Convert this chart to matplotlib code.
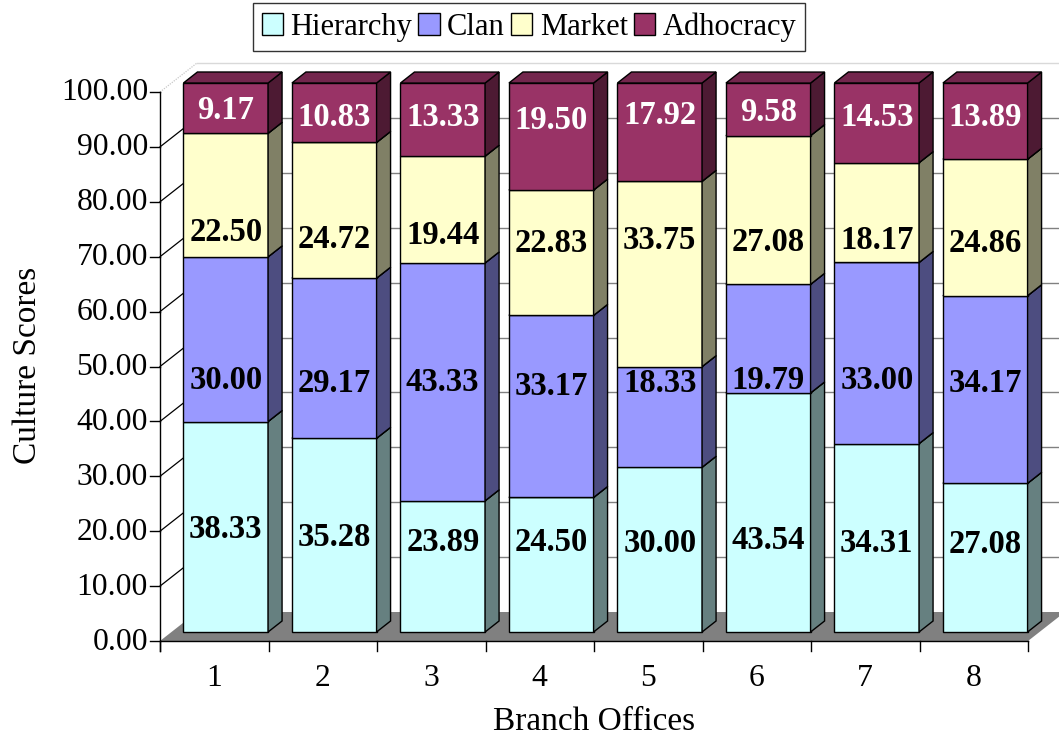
import matplotlib
matplotlib.use("Agg")
import matplotlib.pyplot as plt
from matplotlib.patches import Polygon, Patch
from matplotlib.colors import to_rgb

# ---------------- data ----------------
offices = ["1", "2", "3", "4", "5", "6", "7", "8"]
series_names = ["Hierarchy", "Clan", "Market", "Adhocracy"]
hierarchy = [38.33, 35.28, 23.89, 24.50, 30.00, 43.54, 34.31, 27.08]
clan = [30.00, 29.17, 43.33, 33.17, 18.33, 19.79, 33.00, 34.17]
market = [22.50, 24.72, 19.44, 22.83, 33.75, 27.08, 18.17, 24.86]
adhocracy = [9.17, 10.83, 13.33, 19.50, 17.92, 9.58, 14.53, 13.89]
y_ticks = [0, 10, 20, 30, 40, 50, 60, 70, 80, 90, 100]

# label heights (where the chart placed the value labels)
label_h_hier = [19.2, 17.7, 16.8, 16.8, 16.6, 17.3, 16.6, 16.4]
label_h_clan = [46.4, 45.8, 46.0, 45.3, 45.8, 46.4, 46.4, 45.8]
label_h_market = [73.4, 72.1, 72.8, 71.4, 71.9, 71.5, 71.9, 71.4]
label_h_adhoc = [95.6, 94.3, 94.3, 93.8, 94.7, 95.1, 94.2, 94.3]

series = [hierarchy, clan, market, adhocracy]
label_h = [label_h_hier, label_h_clan, label_h_market, label_h_adhoc]
colors = ["#CCFFFF", "#9999FF", "#FFFFCC", "#993366"]
label_colors = ["black", "black", "black", "white"]

FONT = "Liberation Serif"
plt.rcParams["font.family"] = [FONT, "DejaVu Serif"]

W, H = 1059, 738
fig = plt.figure(figsize=(W / 100, H / 100), dpi=100)
# front plane of the plot box in pixels
px_left, px_right, px_bottom, px_top = 160, 1028, 641, 92
ax = fig.add_axes([px_left / W, (H - px_bottom) / H,
                   (px_right - px_left) / W, (px_bottom - px_top) / H])
n = len(offices)
ax.set_xlim(0, n)
ax.set_ylim(0, 100)
ax.axis("off")

ppx = (px_right - px_left) / n      # pixels per category
ppy = (px_bottom - px_top) / 100.0  # pixels per unit

def ux(p):
    return p / ppx

def uy(p):
    return p / ppy

# depth offsets
Dx, Dy = ux(37), uy(29)      # full depth of the floor / walls
Fx, Fy = ux(11.5), uy(9)     # bar front plane
Bx, By = ux(14), uy(11)      # bar depth
bar_w = 0.78
txt_shift = uy(3)            # visual centring correction for digits

def darken(c, f):
    r, g, b = to_rgb(c)
    return (r * f, g * f, b * f)

def poly(pts, **kw):
    p = Polygon(pts, closed=True, clip_on=False, **kw)
    ax.add_patch(p)
    return p

# floor
poly([(0, 0), (n, 0), (n + Dx, Dy), (Dx, Dy)], facecolor="#808080",
     edgecolor="none", zorder=1)

# back-wall gridlines & side-wall diagonals
for t in y_ticks:
    if t == 0:
        continue
    col = "#d9d9d9" if t == 100 else "#808080"
    ax.plot([Dx, n + Dx], [t + Dy, t + Dy], color=col, lw=1.0,
            clip_on=False, zorder=1.5)
    dcol = "#c8c8c8" if t == 100 else "black"
    ax.plot([0, Dx], [t, t + Dy], color=dcol, lw=0.9, clip_on=False,
            zorder=1.5, ls=(0, (1, 1)) if t == 100 else "-")

# axes lines and ticks
tick_len_x = ux(10)
tick_len_y = uy(10)
ax.plot([0, 0], [-tick_len_y, 100], color="black", lw=1.0, clip_on=False, zorder=2)
ax.plot([0, n], [0, 0], color="black", lw=1.0, clip_on=False, zorder=2)
for t in y_ticks:
    ax.plot([-tick_len_x, 0], [t, t], color="black", lw=1.0, clip_on=False, zorder=2)
    ax.text(-ux(12), t - uy(1), f"{t:.2f}", ha="right", va="center",
            fontsize=22.8, family=FONT)
for i in range(n + 1):
    ax.plot([i, i], [0, -tick_len_y], color="black", lw=1.0, clip_on=False, zorder=2)
for i, lab in enumerate(offices):
    ax.text(i + 0.5, uy(-37), lab, ha="center", va="center", fontsize=22.8,
            family=FONT)

# bars
for i in range(n):
    x0 = i + (1 - bar_w) / 2 + Fx
    x1 = x0 + bar_w
    base = Fy
    for s, vals in enumerate(series):
        v = vals[i]
        y0, y1 = base, base + v
        c = colors[s]
        z = 3 + s * 0.01
        # front face
        poly([(x0, y0), (x1, y0), (x1, y1), (x0, y1)], facecolor=c,
             edgecolor="black", lw=1.0, zorder=z)
        # right side face
        poly([(x1, y0), (x1 + Bx, y0 + By), (x1 + Bx, y1 + By), (x1, y1)],
             facecolor=darken(c, 0.5), edgecolor="black", lw=1.0, zorder=z)
        # top face
        poly([(x0, y1), (x1, y1), (x1 + Bx, y1 + By), (x0 + Bx, y1 + By)],
             facecolor=darken(c, 0.75), edgecolor="black", lw=1.0, zorder=z)
        base = y1
    for s in range(len(series)):
        ax.text((x0 + x1) / 2, label_h[s][i] + Fy - txt_shift,
                f"{series[s][i]:.2f}",
                ha="center", va="center", fontsize=23.5, fontweight="bold",
                color=label_colors[s], family=FONT, zorder=10)

# axis titles
ax.text(ux(28 - px_left), uy(px_bottom - 365), "Culture Scores", rotation=90,
        ha="center", va="center", fontsize=24, family=FONT)
ax.text(ux(594 - px_left), uy(px_bottom - 722), "Branch Offices",
        ha="center", va="center", fontsize=24, family=FONT)

# legend
handles = [Patch(facecolor=c, edgecolor="black", lw=1.0) for c in colors]
leg = fig.legend(handles, series_names, loc="upper center",
                 bbox_to_anchor=(529 / W, 1 - 3 / H), ncol=4, frameon=True,
                 fancybox=False, prop={"family": FONT, "size": 22},
                 handlelength=0.7, handleheight=0.7, handletextpad=0.24,
                 columnspacing=0.2, borderpad=0.3, borderaxespad=0)
leg.get_frame().set_edgecolor("black")
leg.get_frame().set_linewidth(1.0)

fig.savefig("out.png", dpi=100)
